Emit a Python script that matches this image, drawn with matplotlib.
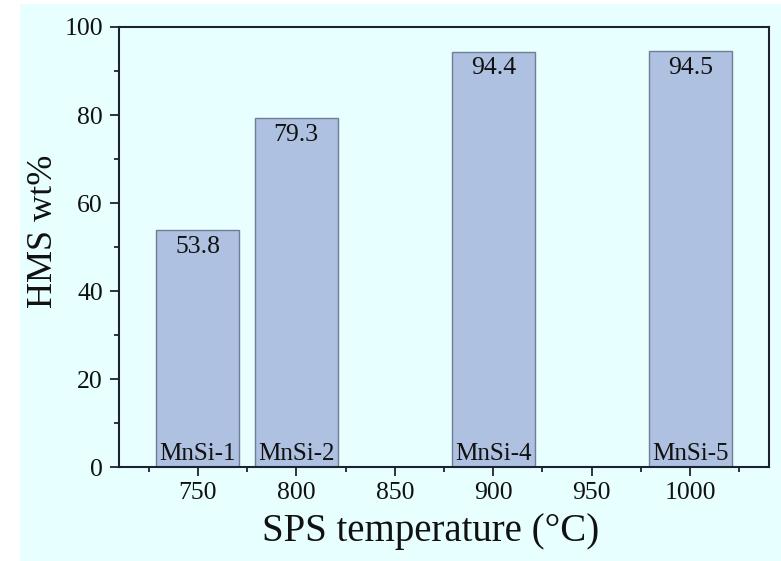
import matplotlib.pyplot as plt
from matplotlib.patches import Rectangle

# data
temps = [750, 800, 900, 1000]
hms = [53.8, 79.3, 94.4, 94.5]
samples = ['MnSi-1', 'MnSi-2', 'MnSi-4', 'MnSi-5']
xticks = [750, 800, 850, 900, 950, 1000]

bg = '#e8ffff'
plt.rcParams['font.family'] = ['Liberation Serif', 'DejaVu Serif']

fig = plt.figure(figsize=(7.81, 5.61), dpi=100)
fig.patch.set_facecolor(bg)
# small white strips at left and top
fig.add_artist(Rectangle((0, 0), 20 / 781, 1, transform=fig.transFigure,
                         facecolor='white', edgecolor='none', zorder=-10))
fig.add_artist(Rectangle((0, 1 - 4 / 561), 1, 4 / 561, transform=fig.transFigure,
                         facecolor='white', edgecolor='none', zorder=-10))

ax = fig.add_axes([119 / 781, 1 - 467 / 561, 650 / 781, 440 / 561])
ax.set_facecolor(bg)

ax.bar(temps, hms, width=42, color='#aec1e0', edgecolor='#6e7e96', linewidth=1.0)

for t, v, s in zip(temps, hms, samples):
    ax.annotate(f'{v}', (t, v), xytext=(0, -4), textcoords='offset points',
                ha='center', va='top', fontsize=18.5, color='#111111')
    ax.annotate(s, (t, 0), xytext=(0, 5), textcoords='offset points',
                ha='center', va='baseline', fontsize=18, color='#111111')

ax.set_xlim(710, 1040)
ax.set_ylim(0, 100)
ax.set_xticks(xticks)
ax.set_xticks([725 + 50 * i for i in range(7)], minor=True)
ax.set_yticks(range(0, 101, 20))
ax.set_yticks(range(10, 100, 20), minor=True)

for sp in ax.spines.values():
    sp.set_linewidth(1.5)
    sp.set_color('#1e2230')

ax.tick_params(which='major', length=6.5, width=1.3, labelsize=18.5,
               color='#1e2230', labelcolor='#111111', pad=4)
ax.tick_params(which='minor', length=3.5, width=1.3, color='#1e2230')
ax.tick_params(axis='y', pad=5)

ax.set_xlabel('SPS temperature (°C)', fontsize=28, color='#111111')
ax.set_ylabel('HMS wt%', fontsize=26, color='#111111')
ax.xaxis.set_label_coords(0.48, -0.105)
ax.yaxis.set_label_coords(-0.09, 0.536)

fig.savefig('out.png', dpi=100, facecolor=fig.get_facecolor())
